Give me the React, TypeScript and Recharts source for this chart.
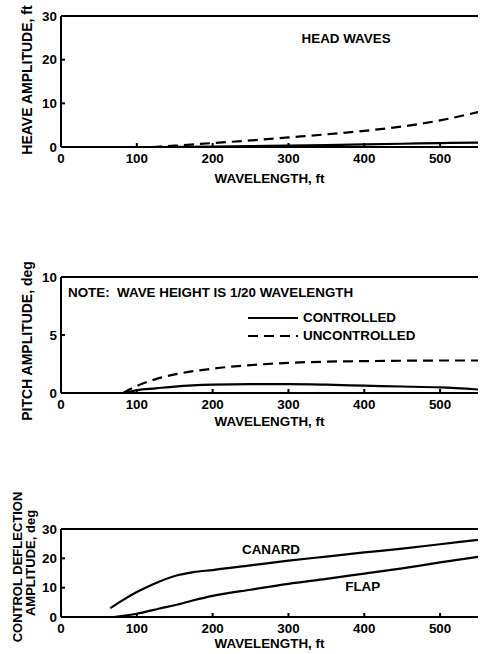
import React from 'react';
import { LineChart, Line, XAxis, YAxis, ReferenceLine, ReferenceDot, Label, Legend } from 'recharts';

// ---------- data ----------
const wavelengthTicks = [0, 100, 200, 300, 400, 500];

const heaveUncontrolledX = [120, 150, 200, 250, 300, 350, 400, 450, 500, 550];
const heaveUncontrolledY = [0, 0.3, 0.9, 1.5, 2.2, 2.9, 3.7, 4.7, 6.1, 8.0];
const heaveControlledX = [130, 200, 250, 300, 350, 400, 450, 500, 550];
const heaveControlledY = [0, 0.1, 0.2, 0.3, 0.45, 0.6, 0.75, 0.9, 1.0];
const heaveTicks = [0, 10, 20, 30];

const pitchUncontrolledX = [82, 90, 100, 125, 150, 200, 250, 300, 350, 400, 450, 500, 550];
const pitchUncontrolledY = [0, 0.3, 0.6, 1.2, 1.6, 2.1, 2.4, 2.6, 2.7, 2.75, 2.78, 2.8, 2.8];
const pitchControlledX = [82, 90, 100, 125, 150, 200, 250, 300, 350, 400, 450, 500, 550];
const pitchControlledY = [0, 0.1, 0.25, 0.4, 0.55, 0.72, 0.77, 0.77, 0.72, 0.63, 0.56, 0.48, 0.3];
const pitchTicks = [0, 5, 10];

const canardX = [65, 80, 100, 120, 150, 175, 200, 250, 300, 350, 400, 450, 500, 550];
const canardY = [3, 5.5, 8.5, 11, 14, 15.3, 16, 17.6, 19.2, 20.6, 22, 23.3, 24.8, 26.3];
const flapX = [70, 100, 130, 150, 175, 200, 250, 300, 350, 400, 450, 500, 550];
const flapY = [0, 1.1, 2.9, 4.0, 5.7, 7.2, 9.3, 11.3, 13.0, 14.8, 16.6, 18.6, 20.5];
const deflectionTicks = [0, 10, 20, 30];

const zip = (xs: number[], ys: number[]) => xs.map((x, i) => ({ x, y: ys[i] }));

// ---------- styles ----------
const FONT = '"Liberation Sans", Arial, Helvetica, sans-serif';
const INK = '#000';
const FS = 13.4;
const textStyle = { fontFamily: FONT, fontWeight: 'bold' as const, fontSize: FS, fill: INK };

const XTick = (props: any) => {
  const { x, y, payload } = props;
  return (
    <g>
      <line x1={x} x2={x} y1={y} y2={y - 4} stroke={INK} strokeWidth={2} />
      <text x={x} y={y + 11} dy="0.355em" textAnchor="middle" {...textStyle}>
        {payload.value}
      </text>
    </g>
  );
};

const YTick = (props: any) => {
  const { x, y, payload } = props;
  return (
    <g>
      <line x1={x} x2={x + 4} y1={y} y2={y} stroke={INK} strokeWidth={2} />
      <text x={x - 4} y={y} dy="0.355em" textAnchor="end" {...textStyle}>
        {payload.value}
      </text>
    </g>
  );
};

const xTitle = (yPos: number) => (props: any) => {
  const vb = props.viewBox || { x: 61, width: 417 };
  return (
    <text x={vb.x + vb.width / 2} y={yPos} dy="0.355em" textAnchor="middle" {...textStyle}>
      WAVELENGTH, ft
    </text>
  );
};

const yTitle = (lines: { text: string; x: number; y: number; size: number }[]) => () => (
  <g>
    {lines.map((l, i) => (
      <text
        key={i}
        x={l.x}
        y={l.y}
        dy="0.355em"
        textAnchor="middle"
        transform={`rotate(-90 ${l.x} ${l.y})`}
        {...textStyle}
        fontSize={l.size}
      >
        {l.text}
      </text>
    ))}
  </g>
);

const PitchLegend = (props: any) => {
  const payload = props.payload || [];
  return (
    <div
      style={{
        position: 'relative',
        width: 480,
        height: 240,
        fontFamily: FONT,
        fontWeight: 'bold',
        fontSize: FS,
        color: INK,
        pointerEvents: 'none',
      }}
    >
      <div style={{ position: 'absolute', left: 68, top: 85, lineHeight: '16px', whiteSpace: 'pre' }}>
        NOTE:  WAVE HEIGHT IS 1/20 WAVELENGTH
      </div>
      {payload.map((p: any, i: number) => (
        <div
          key={i}
          style={{
            position: 'absolute',
            left: 248,
            top: 110 + i * 18,
            height: 16,
            lineHeight: '16px',
            display: 'flex',
            alignItems: 'center',
            whiteSpace: 'nowrap',
          }}
        >
          <svg width={50} height={6} style={{ display: 'block' }}>
            <line
              x1={0}
              x2={50}
              y1={3}
              y2={3}
              stroke={INK}
              strokeWidth={2}
              strokeDasharray={p.payload && p.payload.strokeDasharray ? p.payload.strokeDasharray : undefined}
            />
          </svg>
          <span style={{ marginLeft: 5 }}>{p.value}</span>
        </div>
      ))}
    </div>
  );
};

const W = 480;
const X_DOMAIN: [number, number] = [0, 550];

const commonX = (height: number, titleY: number) => (
  <XAxis
    type="number"
    dataKey="x"
    domain={X_DOMAIN}
    ticks={wavelengthTicks}
    allowDataOverflow
    height={height}
    tickSize={0}
    tickMargin={0}
    tick={<XTick />}
    axisLine={{ stroke: INK, strokeWidth: 2 }}
    tickLine={false}
  >
    <Label content={xTitle(titleY)} />
  </XAxis>
);

export default function App() {
  return (
    <div style={{ position: 'absolute', left: 0, top: 0, width: W, height: 654, background: '#fff', overflow: 'hidden' }}>
      {/* Heave */}
      <div style={{ position: 'absolute', left: 0, top: 0 }}>
        <LineChart width={W} height={200} margin={{ top: 16, right: 2, bottom: 0, left: 0 }}>
          {commonX(53, 178)}
          <YAxis
            type="number"
            domain={[0, 30]}
            ticks={heaveTicks}
            width={61}
            tickSize={0}
            tickMargin={0}
            tick={<YTick />}
            axisLine={{ stroke: INK, strokeWidth: 2 }}
            tickLine={false}
          >
            <Label content={yTitle([{ text: 'HEAVE AMPLITUDE, ft', x: 27, y: 80, size: 14 }])} />
          </YAxis>
          <ReferenceLine y={30} stroke={INK} strokeWidth={2} />
          <Line
            data={zip(heaveControlledX, heaveControlledY)}
            dataKey="y"
            name="CONTROLLED"
            type="monotone"
            stroke={INK}
            strokeWidth={2.2}
            dot={false}
            isAnimationActive={false}
          />
          <Line
            data={zip(heaveUncontrolledX, heaveUncontrolledY)}
            dataKey="y"
            name="UNCONTROLLED"
            type="monotone"
            stroke={INK}
            strokeWidth={2.2}
            strokeDasharray="10 6"
            dot={false}
            isAnimationActive={false}
          />
          <ReferenceDot
            x={376}
            y={24.9}
            r={0}
            fill="none"
            stroke="none"
            label={{ value: 'HEAD WAVES', position: 'center', ...textStyle }}
          />
        </LineChart>
      </div>

      {/* Pitch */}
      <div style={{ position: 'absolute', left: 0, top: 200 }}>
        <LineChart width={W} height={240} margin={{ top: 77, right: 2, bottom: 0, left: 0 }}>
          {commonX(47, 221)}
          <YAxis
            type="number"
            domain={[0, 10]}
            ticks={pitchTicks}
            width={61}
            tickSize={0}
            tickMargin={0}
            tick={<YTick />}
            axisLine={{ stroke: INK, strokeWidth: 2 }}
            tickLine={false}
          >
            <Label content={yTitle([{ text: 'PITCH AMPLITUDE, deg', x: 27, y: 141, size: 14 }])} />
          </YAxis>
          <ReferenceLine y={10} stroke={INK} strokeWidth={2} />
          <Line
            data={zip(pitchControlledX, pitchControlledY)}
            dataKey="y"
            name="CONTROLLED"
            type="monotone"
            stroke={INK}
            strokeWidth={2.2}
            dot={false}
            isAnimationActive={false}
          />
          <Line
            data={zip(pitchUncontrolledX, pitchUncontrolledY)}
            dataKey="y"
            name="UNCONTROLLED"
            type="monotone"
            stroke={INK}
            strokeWidth={2.2}
            strokeDasharray="10 6"
            dot={false}
            isAnimationActive={false}
          />
          <Legend
            layout="horizontal"
            verticalAlign="middle"
            align="center"
            content={<PitchLegend />}
            wrapperStyle={{ left: 0, top: 0, width: W, height: 240 }}
          />
        </LineChart>
      </div>

      {/* Control deflection */}
      <div style={{ position: 'absolute', left: 0, top: 440 }}>
        <LineChart width={W} height={214} margin={{ top: 89, right: 2, bottom: 0, left: 0 }}>
          {commonX(37, 203)}
          <YAxis
            type="number"
            domain={[0, 30]}
            ticks={deflectionTicks}
            width={61}
            tickSize={0}
            tickMargin={0}
            tick={<YTick />}
            axisLine={{ stroke: INK, strokeWidth: 2 }}
            tickLine={false}
          >
            <Label
              content={yTitle([
                { text: 'CONTROL DEFLECTION', x: 17, y: 127, size: 13 },
                { text: 'AMPLITUDE, deg', x: 30, y: 123, size: 13 },
              ])}
            />
          </YAxis>
          <ReferenceLine y={30} stroke={INK} strokeWidth={2} />
          <Line
            data={zip(canardX, canardY)}
            dataKey="y"
            name="CANARD"
            type="monotone"
            stroke={INK}
            strokeWidth={2.2}
            dot={false}
            isAnimationActive={false}
          />
          <Line
            data={zip(flapX, flapY)}
            dataKey="y"
            name="FLAP"
            type="monotone"
            stroke={INK}
            strokeWidth={2.2}
            dot={false}
            isAnimationActive={false}
          />
          <ReferenceDot
            x={277}
            y={23.2}
            r={0}
            fill="none"
            stroke="none"
            label={{ value: 'CANARD', position: 'center', ...textStyle }}
          />
          <ReferenceDot
            x={398}
            y={10.5}
            r={0}
            fill="none"
            stroke="none"
            label={{ value: 'FLAP', position: 'center', ...textStyle }}
          />
        </LineChart>
      </div>
    </div>
  );
}
